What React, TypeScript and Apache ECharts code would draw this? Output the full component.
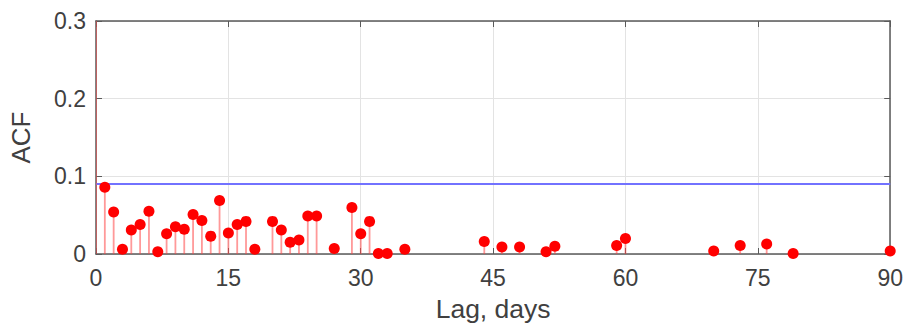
import React, { useEffect, useRef } from "react";
import * as echarts from "echarts";

const lags = [0, 1, 2, 3, 4, 5, 6, 7, 8, 9, 10, 11, 12, 13, 14, 15, 16, 17, 18, 20, 21, 22, 23, 24, 25, 27, 29, 30, 31, 32, 33, 35, 44, 46, 48, 51, 52, 59, 60, 70, 73, 76, 79, 90];
const acf = [1, 0.086, 0.054, 0.006, 0.031, 0.038, 0.055, 0.003, 0.026, 0.035, 0.032, 0.051, 0.043, 0.023, 0.069, 0.027, 0.038, 0.042, 0.006, 0.042, 0.031, 0.015, 0.018, 0.049, 0.049, 0.007, 0.06, 0.026, 0.042, 0.0005, 0.0005, 0.006, 0.016, 0.009, 0.009, 0.003, 0.01, 0.011, 0.02, 0.004, 0.011, 0.013, 0.0005, 0.004];
const confLevel = 0.09;
const xTicks = { min: 0, max: 90, interval: 15 };
const yTicks = { min: 0, max: 0.3, interval: 0.1 };

const FONT = "Liberation Sans, Arial, sans-serif";
const TEXT = "#404040";
const BOX = "#5a5a5a";

export default function App() {
  const ref = useRef<HTMLDivElement>(null);
  useEffect(() => {
    if (!ref.current) return;
    const chart = echarts.init(ref.current, null, { renderer: "svg" });
    const points = lags.map((l, i) => [l, acf[i]]);
    chart.setOption({
      animation: false,
      grid: { left: 96, top: 21, right: 14.5, bottom: 72, show: false },
      xAxis: [
        {
          type: "value",
          ...xTicks,
          position: "bottom",
          name: "Lag, days",
          nameLocation: "middle",
          nameGap: 41,
          nameTextStyle: { fontFamily: FONT, fontSize: 26.5, color: TEXT },
          axisLine: { show: true, onZero: false, lineStyle: { color: BOX, width: 1.5 } },
          axisTick: { show: true, inside: true, length: 6, lineStyle: { color: BOX } },
          axisLabel: { fontFamily: FONT, fontSize: 23, color: TEXT, margin: 12 },
          splitLine: { show: true, lineStyle: { color: "#e3e3e3", width: 1 } },
        },
        {
          type: "value",
          ...xTicks,
          position: "top",
          axisLine: { show: true, onZero: false, lineStyle: { color: BOX, width: 1.5 } },
          axisTick: { show: true, inside: true, length: 6, lineStyle: { color: BOX } },
          axisLabel: { show: false },
          splitLine: { show: false },
        },
      ],
      yAxis: [
        {
          type: "value",
          ...yTicks,
          position: "left",
          name: "ACF",
          nameLocation: "middle",
          nameGap: 62,
          nameRotate: 90,
          nameTextStyle: { fontFamily: FONT, fontSize: 26, color: TEXT },
          axisLine: { show: true, onZero: false, lineStyle: { color: BOX, width: 1.5 } },
          axisTick: { show: true, inside: true, length: 6, lineStyle: { color: BOX } },
          axisLabel: { fontFamily: FONT, fontSize: 23, color: TEXT, margin: 10 },
          splitLine: { show: true, lineStyle: { color: "#e3e3e3", width: 1 } },
        },
        {
          type: "value",
          ...yTicks,
          position: "right",
          axisLine: { show: true, onZero: false, lineStyle: { color: BOX, width: 1.5 } },
          axisTick: { show: true, inside: true, length: 6, lineStyle: { color: BOX } },
          axisLabel: { show: false },
          splitLine: { show: false },
        },
      ],
      series: [
        {
          type: "line",
          data: [[xTicks.min, confLevel], [xTicks.max, confLevel]],
          symbol: "none",
          lineStyle: { color: "#7272ff", width: 2 },
          z: 2,
        },
        {
          type: "custom",
          clip: true,
          data: points,
          renderItem: (params: any, api: any) => {
            const x = api.value(0);
            const y = api.value(1);
            const p0 = api.coord([x, 0]);
            const p1 = api.coord([x, y]);
            return {
              type: "line",
              shape: { x1: p0[0], y1: p0[1], x2: p1[0], y2: p1[1] },
              style: { stroke: "rgba(255,70,70,0.55)", lineWidth: 1.8 },
            };
          },
          z: 3,
        },
        {
          type: "scatter",
          data: points,
          symbol: "circle",
          symbolSize: 11,
          itemStyle: { color: "#ff0000", opacity: 1 },
          clip: true,
          z: 4,
        },
      ],
    });
    return () => chart.dispose();
  }, []);
  return (
    <div
      ref={ref}
      style={{ position: "fixed", left: 0, top: 0, width: 906, height: 327, background: "#fff" }}
    />
  );
}
